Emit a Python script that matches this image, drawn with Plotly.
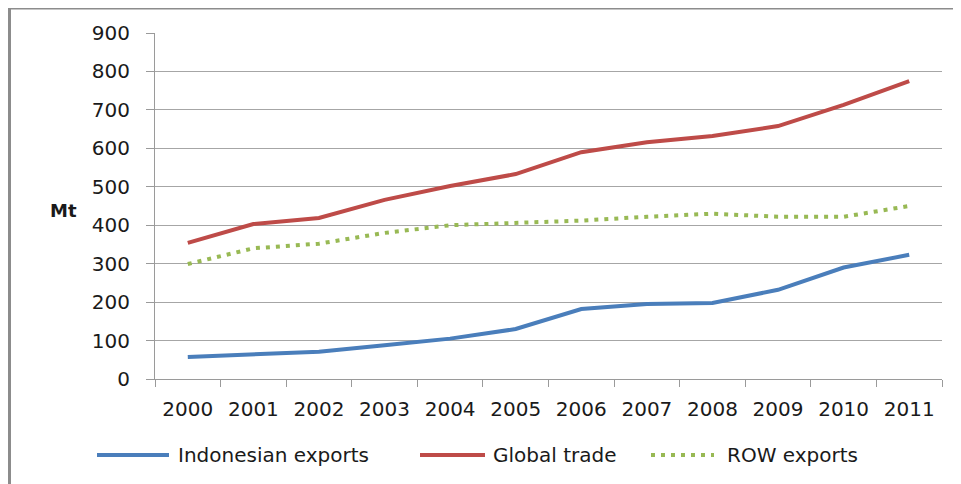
import plotly.graph_objects as go

years = ["2000", "2001", "2002", "2003", "2004", "2005", "2006", "2007", "2008", "2009", "2010", "2011"]
indonesian = [57, 65, 71, 88, 105, 130, 182, 195, 198, 232, 290, 323]
global_trade = [354, 403, 419, 466, 502, 533, 590, 616, 632, 658, 713, 775]
row_exports = [299, 340, 352, 380, 400, 405, 412, 422, 430, 422, 422, 450]
y_ticks = [0, 100, 200, 300, 400, 500, 600, 700, 800, 900]
series_names = ["Indonesian exports", "Global trade", "ROW exports"]
series_colors = ["#4A7EBB", "#BE4B48", "#98B954"]

FONT = "DejaVu Sans"
# page body has an 8px margin; figure coordinates are screen - 8
W, H = 953, 476
L, R, T, B = 147, 19, 25, 105
pw, ph = W - L - R, H - T - B


def px(x):
    return (x - 8 - L) / pw


def py(y):
    return (H - B - (y - 8)) / ph


fig = go.Figure()
for name, vals, col, dash in zip(series_names, [indonesian, global_trade, row_exports],
                                 series_colors, ["solid", "solid", "4px,6px"]):
    fig.add_trace(go.Scatter(x=years, y=vals, mode="lines", name=name,
                             line=dict(color=col, width=4, dash=dash), showlegend=False))

shapes = [
    dict(type="line", xref="paper", yref="paper", x0=px(9.5), x1=px(9.5), y0=py(8), y1=py(500),
         line=dict(color="#8C8C8C", width=3)),
    dict(type="line", xref="paper", yref="paper", x0=px(8), x1=px(970), y0=py(8.5), y1=py(8.5),
         line=dict(color="#8C8C8C", width=2)),
]
annotations = [
    dict(text="<b>Mt</b>", xref="paper", yref="paper", x=px(63), y=py(210),
         showarrow=False, xanchor="center", yanchor="middle", font=dict(size=18, family=FONT, color="#1a1a1a")),
]

# custom legend (screen positions)
leg_y = 455
leg_items = [(97, 169, 176), (420, 485, 491), (651, 714, 725)]
for (x0, x1, tx), name, col, dash in zip(leg_items, series_names, series_colors,
                                         ["solid", "solid", "4px,6px"]):
    shapes.append(dict(type="line", xref="paper", yref="paper", x0=px(x0), x1=px(x1),
                       y0=py(leg_y), y1=py(leg_y), line=dict(color=col, width=4, dash=dash)))
    annotations.append(dict(text=name, xref="paper", yref="paper", x=px(tx), y=py(leg_y),
                            showarrow=False, xanchor="left", yanchor="middle",
                            font=dict(size=20, family=FONT, color="#1a1a1a")))

fig.update_layout(
    width=W, height=H,
    margin=dict(l=L, r=R, t=T, b=B),
    paper_bgcolor="white", plot_bgcolor="white",
    font=dict(family=FONT, size=20, color="#1a1a1a"),
    showlegend=False,
    xaxis=dict(type="category", range=[-0.5, 11.5], showgrid=False, showline=True,
               linecolor="#9A9A9A", linewidth=1, ticks="outside", tickson="boundaries",
               ticklen=7, tickcolor="#9A9A9A", tickfont=dict(size=20), ticklabelstandoff=12,
               fixedrange=True),
    yaxis=dict(range=[0, 900], tickvals=y_ticks, showgrid=True, gridcolor="#A6A6A6", gridwidth=1,
               showline=True, linecolor="#9A9A9A", linewidth=1, ticks="outside", ticklen=8,
               tickcolor="#9A9A9A", tickfont=dict(size=20), ticklabelstandoff=12, zeroline=False),
    shapes=shapes,
    annotations=annotations,
)

fig.write_html("out.html")
